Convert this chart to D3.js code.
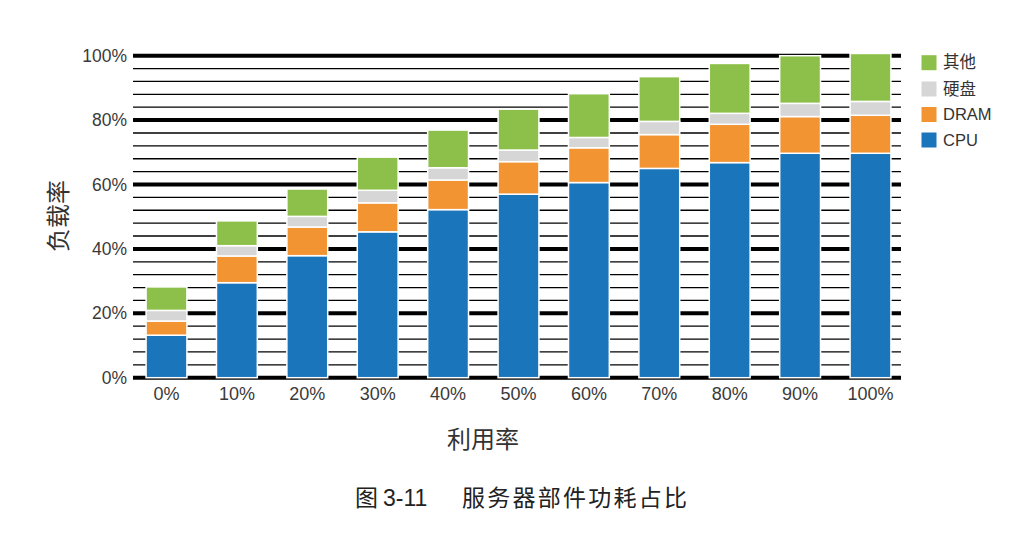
<!DOCTYPE html>
<html><head><meta charset="utf-8">
<script src="https://cdn.jsdelivr.net/npm/d3@7"></script>
<style>
html,body{margin:0;padding:0;background:#fff;}
svg{display:block;font-family:"Liberation Sans","Noto Sans CJK SC",Arial,sans-serif;}
</style></head>
<body>
<svg id="chart" width="1036" height="534"></svg>
<script>
const categories = ["0%","10%","20%","30%","40%","50%","60%","70%","80%","90%","100%"];
const cpu   = [13.2, 29.5, 37.9, 45.3, 52.2, 57.0, 60.6, 65.0, 66.8, 69.7, 69.7];
const dram  = [4.4, 8.3, 8.9, 9.0, 9.2, 10.1, 10.8, 10.5, 11.9, 11.4, 11.8];
const disk  = [3.3, 3.2, 3.3, 3.9, 3.8, 3.6, 3.2, 4.1, 3.4, 4.1, 4.3];
const other = [7.3, 7.7, 8.5, 10.3, 11.7, 12.7, 13.6, 13.9, 15.5, 14.8, 14.9];
const seriesNames = ["CPU","DRAM","硬盘","其他"];
const seriesColors = ["#1b75bb","#f39433","#d6d6d6","#8dc04a"];
const yMajorTicks = [0,20,40,60,80,100];
const yMinorTicks = d3.range(0,101,4).filter(v => v % 20 !== 0);

const svg = d3.select("#chart");
const data = categories.map((c,i)=>({cat:c, CPU:cpu[i], DRAM:dram[i], "硬盘":disk[i], "其他":other[i]}));
const stack = d3.stack().keys(seriesNames)(data);

const x = d3.scaleBand().domain(categories).range([131.3, 905.7]).paddingInner(0.42).paddingOuter(0.21);
const y = d3.scaleLinear().domain([0,100]).range([377.7, 55.7]);
const gx0 = 133, gx1 = 901;

// minor gridlines
svg.append("g").selectAll("line").data(yMinorTicks).join("line")
  .attr("x1",gx0).attr("x2",gx1)
  .attr("y1",d=>y(d)).attr("y2",d=>y(d))
  .attr("stroke","#000").attr("stroke-width",1.3);
// major gridlines
svg.append("g").selectAll("line").data(yMajorTicks).join("line")
  .attr("x1",gx0).attr("x2",gx1)
  .attr("y1",d=>y(d)).attr("y2",d=>y(d))
  .attr("stroke","#000").attr("stroke-width",4);

// bars
const gBars = svg.append("g");
stack.forEach((s,si)=>{
  gBars.append("g").selectAll("rect").data(s).join("rect")
    .attr("x", d=>x(d.data.cat))
    .attr("width", x.bandwidth())
    .attr("y", d=>y(d[1]))
    .attr("height", d=>y(d[0])-y(d[1]))
    .attr("fill", seriesColors[si])
    .attr("stroke","#fff").attr("stroke-width",1.5);
});

// y axis labels
const yAxis = d3.axisLeft(y).tickValues(yMajorTicks).tickFormat(d=>d+"%").tickSize(0).tickPadding(0);
const ya = svg.append("g").attr("transform",`translate(127,0)`).call(yAxis);
ya.select(".domain").remove();
ya.selectAll("text").attr("font-size",17.5).attr("fill","#3a3a3a")
  .attr("font-family","'Liberation Sans',Arial,sans-serif");

// x axis labels
const xAxis = d3.axisBottom(x).tickSize(0).tickPadding(0);
const xa = svg.append("g").attr("transform",`translate(0,387.5)`).call(xAxis);
xa.select(".domain").remove();
xa.selectAll("text").attr("font-size",18).attr("fill","#3a3a3a")
  .attr("font-family","'Liberation Sans',Arial,sans-serif");

// axis titles
svg.append("text").attr("x",483).attr("y",447.5).attr("text-anchor","middle")
  .attr("font-size",24).attr("fill","#333")
  .attr("font-family","'Noto Sans CJK SC',sans-serif").text("利用率");
svg.append("text").attr("transform","translate(67,216) rotate(-90)").attr("text-anchor","middle")
  .attr("font-size",24).attr("fill","#333")
  .attr("font-family","'Noto Sans CJK SC',sans-serif").text("负载率");

// legend
const legendItems = ["其他","硬盘","DRAM","CPU"];
const legendY = [62.7, 89, 114.5, 140];
const lg = svg.append("g");
legendItems.forEach((name,i)=>{
  const ci = seriesNames.indexOf(name);
  lg.append("rect").attr("x",921.5).attr("y",legendY[i]-7.5).attr("width",15).attr("height",15)
    .attr("fill",seriesColors[ci]);
  lg.append("text").attr("x",943).attr("y",legendY[i]).attr("dy","0.35em")
    .attr("font-size",16.5).attr("fill","#333")
    .attr("font-family","'Liberation Sans','Noto Sans CJK SC',sans-serif").text(name);
});

// caption
const cap = svg.append("g").attr("fill","#222").attr("font-size",23);
cap.append("text").attr("x",355).attr("y",506)
  .attr("font-family","'Noto Sans CJK SC',sans-serif").text("图");
cap.append("text").attr("x",383).attr("y",506)
  .attr("font-family","'Liberation Sans',Arial,sans-serif").text("3-11");
cap.append("text").attr("x",462).attr("y",506)
  .attr("font-family","'Noto Sans CJK SC',sans-serif")
  .attr("textLength",225).attr("lengthAdjust","spacing")
  .text("服务器部件功耗占比");
</script>
</body></html>
